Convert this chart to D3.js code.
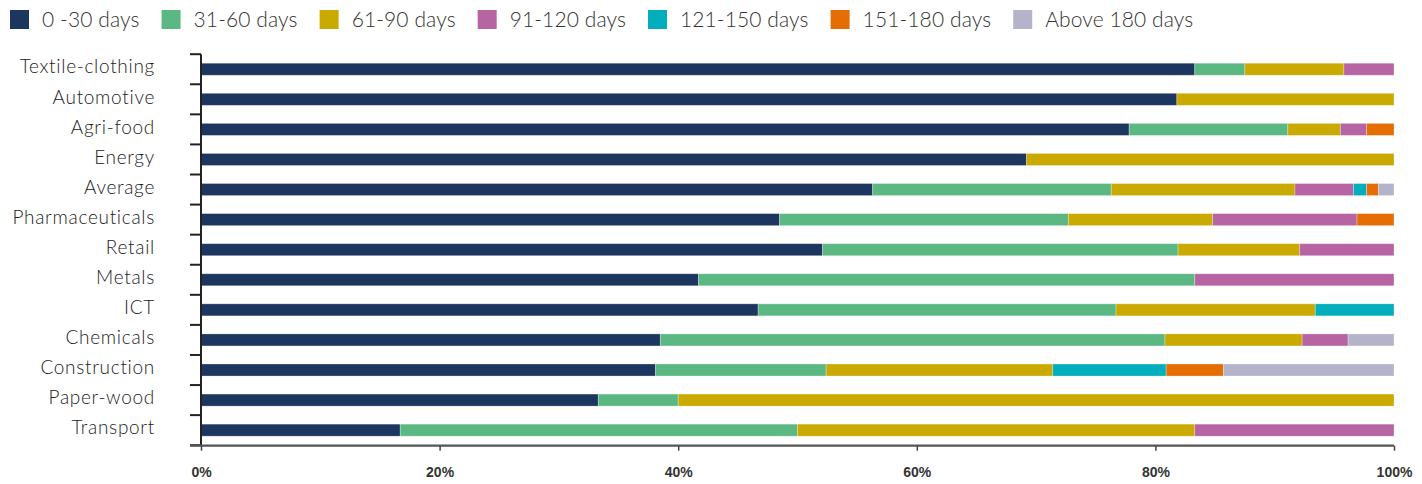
<!DOCTYPE html>
<html><head><meta charset="utf-8">
<script src="https://cdn.jsdelivr.net/npm/d3@7"></script>
<style>
html,body{margin:0;padding:0;background:#fff;}
svg{display:block;}
</style></head>
<body>
<svg id="chart" width="1422" height="484"></svg>
<script>
const categories = ["Textile-clothing","Automotive","Agri-food","Energy","Average","Pharmaceuticals","Retail","Metals","ICT","Chemicals","Construction","Paper-wood","Transport"];
const seriesNames = ["0 -30 days","31-60 days","61-90 days","91-120 days","121-150 days","151-180 days","Above 180 days"];
const seriesColors = ["#1d3660","#5cb883","#caaa00","#b764a3","#02aebb","#e46d04","#b3b4ca"];
// values per series, in category order (percent)
const d0_30    = [83.3, 81.8, 77.8, 69.2, 56.3, 48.5, 52.1, 41.7, 46.7, 38.5, 38.1, 33.3, 16.7];
const d31_60   = [ 4.2,  0.0, 13.3,  0.0, 20.0, 24.2, 29.8, 41.6, 30.0, 42.3, 14.3,  6.7, 33.3];
const d61_90   = [ 8.3, 18.2,  4.4, 30.8, 15.4, 12.1, 10.2,  0.0, 16.7, 11.5, 19.0, 60.0, 33.3];
const d91_120  = [ 4.2,  0.0,  2.2,  0.0,  4.9, 12.1,  7.9, 16.7,  0.0,  3.85, 0.0,  0.0, 16.7];
const d121_150 = [ 0.0,  0.0,  0.0,  0.0,  1.1,  0.0,  0.0,  0.0,  6.6,  0.0,  9.5,  0.0,  0.0];
const d151_180 = [ 0.0,  0.0,  2.3,  0.0,  1.0,  3.1,  0.0,  0.0,  0.0,  0.0,  4.8,  0.0,  0.0];
const dAbove180= [ 0.0,  0.0,  0.0,  0.0,  1.3,  0.0,  0.0,  0.0,  0.0,  3.85,14.3,  0.0,  0.0];
const xTicks = [0, 20, 40, 60, 80, 100];

const seriesValues = [d0_30, d31_60, d61_90, d91_120, d121_150, d151_180, dAbove180];
const keys = seriesNames;
const table = categories.map((c, i) => {
  const row = {category: c};
  keys.forEach((k, j) => row[k] = seriesValues[j][i]);
  return row;
});

const svg = d3.select("#chart");
const margin = {left: 201, right: 28, top: 54.2, bottom: 38.8};
const W = 1422, H = 484;
const FONT = "Lato, 'Noto Sans', sans-serif";

const x = d3.scaleLinear().domain([0, 100]).range([margin.left, W - margin.right]);
const y = d3.scaleBand().domain(categories).range([margin.top, H - margin.bottom]).paddingInner(0.6).paddingOuter(0.3);

const stacked = d3.stack().keys(keys)(table);
const color = d3.scaleOrdinal().domain(keys).range(seriesColors);

// bars
const g = svg.append("g");
stacked.forEach(layer => {
  g.append("g").attr("fill", color(layer.key))
    .selectAll("rect").data(layer).join("rect")
    .attr("x", d => x(d[0]))
    .attr("y", d => y(d.data.category))
    .attr("width", d => Math.max(0, x(Math.min(100, d[1])) - x(d[0])))
    .attr("height", y.bandwidth())
    .attr("stroke", "rgba(255,255,255,0.35)")
    .attr("stroke-width", 0.8);
});

// y axis labels
const yAxis = d3.axisLeft(y).tickSize(0).tickPadding(46);
const yg = svg.append("g").attr("transform", `translate(${margin.left},0)`).call(yAxis);
yg.select(".domain").remove();
yg.selectAll("text").attr("font-family", FONT).attr("font-weight", 300)
  .attr("font-size", 19).attr("letter-spacing", "0.7px").attr("fill", "#222")
  .attr("dy", "0.22em");

// y axis line + band boundary ticks
const y0 = y.range()[0], y1 = y.range()[1];
const bounds = d3.range(categories.length + 1).map(i => y0 + i * y.step());
svg.append("line").attr("x1", x(0)).attr("x2", x(0)).attr("y1", y0).attr("y2", y1 + 1)
  .attr("stroke", "#222").attr("stroke-width", 2);
svg.append("g").selectAll("line").data(bounds).join("line")
  .attr("x1", x(0) - 11).attr("x2", x(0))
  .attr("y1", d => d).attr("y2", d => d)
  .attr("stroke", "#222").attr("stroke-width", 2);

// x axis
const xAxis = d3.axisBottom(x).tickValues(xTicks).tickFormat(d => d + "%").tickSize(5).tickSizeOuter(0).tickPadding(16);
const xg = svg.append("g").attr("transform", `translate(0,${y1 + 0.5})`).call(xAxis);
xg.select(".domain").attr("stroke", "#555").attr("stroke-width", 2.2).attr("d", `M${x(0) - 11},0H${x(100)}`);
xg.selectAll(".tick line").attr("stroke", "#444").attr("stroke-width", 1.5);
xg.selectAll("text").attr("font-family", "'Liberation Sans Narrow', 'Arial Narrow', 'Liberation Sans', sans-serif")
  .attr("font-weight", "bold").attr("font-size", 14).attr("fill", "#333");

// legend
const leg = svg.append("g");
let lx = 10;
keys.forEach((k, i) => {
  const item = leg.append("g").attr("transform", `translate(${lx},0)`);
  item.append("rect").attr("x", 0).attr("y", 10).attr("width", 19).attr("height", 19).attr("fill", seriesColors[i]);
  const t = item.append("text").attr("x", 32).attr("y", 27).text(k)
    .attr("font-family", FONT).attr("font-weight", 300).attr("font-size", 21)
    .attr("letter-spacing", "0.1px").attr("fill", "#333");
  const w = t.node().getComputedTextLength();
  lx += 32 + w + 22;
});
</script>
</body></html>
